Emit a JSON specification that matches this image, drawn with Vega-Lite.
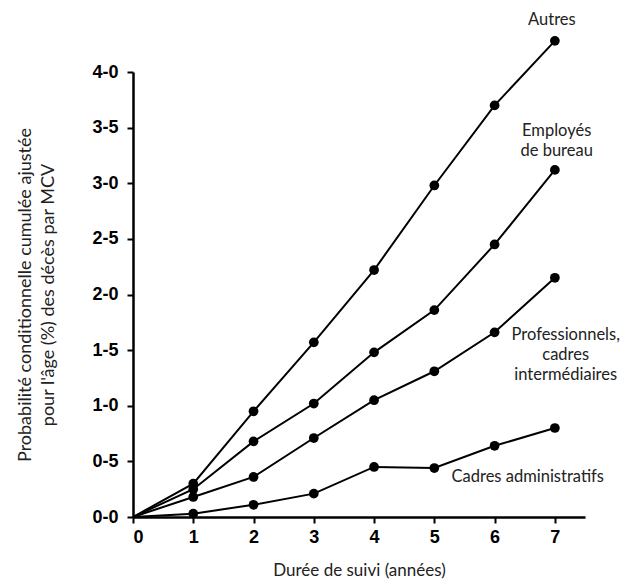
{
  "$schema": "https://vega.github.io/schema/vega-lite/v6.json",
  "autosize": "none",
  "width": 452,
  "height": 445,
  "padding": {"left": 133, "top": 72, "right": 36, "bottom": 64},
  "background": "white",
  "config": {"view": {"stroke": null}},
  "datasets": {
    "series": [
      {"annee": 0, "valeur": 0, "groupe": "Autres"},
      {"annee": 1, "valeur": 0.30, "groupe": "Autres"},
      {"annee": 2, "valeur": 0.95, "groupe": "Autres"},
      {"annee": 3, "valeur": 1.57, "groupe": "Autres"},
      {"annee": 4, "valeur": 2.22, "groupe": "Autres"},
      {"annee": 5, "valeur": 2.98, "groupe": "Autres"},
      {"annee": 6, "valeur": 3.70, "groupe": "Autres"},
      {"annee": 7, "valeur": 4.28, "groupe": "Autres"},
      {"annee": 0, "valeur": 0, "groupe": "Employés de bureau"},
      {"annee": 1, "valeur": 0.25, "groupe": "Employés de bureau"},
      {"annee": 2, "valeur": 0.68, "groupe": "Employés de bureau"},
      {"annee": 3, "valeur": 1.02, "groupe": "Employés de bureau"},
      {"annee": 4, "valeur": 1.48, "groupe": "Employés de bureau"},
      {"annee": 5, "valeur": 1.86, "groupe": "Employés de bureau"},
      {"annee": 6, "valeur": 2.45, "groupe": "Employés de bureau"},
      {"annee": 7, "valeur": 3.12, "groupe": "Employés de bureau"},
      {"annee": 0, "valeur": 0, "groupe": "Professionnels, cadres intermédiaires"},
      {"annee": 1, "valeur": 0.18, "groupe": "Professionnels, cadres intermédiaires"},
      {"annee": 2, "valeur": 0.36, "groupe": "Professionnels, cadres intermédiaires"},
      {"annee": 3, "valeur": 0.71, "groupe": "Professionnels, cadres intermédiaires"},
      {"annee": 4, "valeur": 1.05, "groupe": "Professionnels, cadres intermédiaires"},
      {"annee": 5, "valeur": 1.31, "groupe": "Professionnels, cadres intermédiaires"},
      {"annee": 6, "valeur": 1.66, "groupe": "Professionnels, cadres intermédiaires"},
      {"annee": 7, "valeur": 2.15, "groupe": "Professionnels, cadres intermédiaires"},
      {"annee": 0, "valeur": 0, "groupe": "Cadres administratifs"},
      {"annee": 1, "valeur": 0.03, "groupe": "Cadres administratifs"},
      {"annee": 2, "valeur": 0.11, "groupe": "Cadres administratifs"},
      {"annee": 3, "valeur": 0.21, "groupe": "Cadres administratifs"},
      {"annee": 4, "valeur": 0.45, "groupe": "Cadres administratifs"},
      {"annee": 5, "valeur": 0.44, "groupe": "Cadres administratifs"},
      {"annee": 6, "valeur": 0.64, "groupe": "Cadres administratifs"},
      {"annee": 7, "valeur": 0.80, "groupe": "Cadres administratifs"}
    ],
    "etiquettes": [
      {"texte": ["Autres"], "annee": 6.95, "valeur": 4.47},
      {"texte": ["Employés", "de bureau"], "annee": 7.03, "valeur": 3.47},
      {"texte": ["Professionnels,", "cadres", "intermédiaires"], "annee": 7.18, "valeur": 1.64},
      {"texte": ["Cadres administratifs"], "annee": 6.55, "valeur": 0.36}
    ]
  },
  "layer": [
    {
      "data": {"name": "series"},
      "mark": {"type": "line", "color": "black", "strokeWidth": 2},
      "encoding": {
        "x": {
          "field": "annee", "type": "quantitative",
          "scale": {"domain": [0, 7.5], "nice": false, "zero": true},
          "axis": {
            "values": [0, 1, 2, 3, 4, 5, 6, 7],
            "format": "d",
            "title": "Durée de suivi (années)",
            "titleFont": "Lato", "titleFontWeight": "normal", "titleFontSize": 17, "titleColor": "#222",
            "titlePadding": 16,
            "labelFont": "Liberation Sans", "labelFontWeight": "bold", "labelFontSize": 18, "labelColor": "black",
            "labelPadding": 5,
            "domainColor": "black", "domainWidth": 2.5,
            "tickColor": "black", "tickWidth": 2, "tickSize": 6,
            "grid": false
          }
        },
        "y": {
          "field": "valeur", "type": "quantitative",
          "scale": {"domain": [0, 4], "nice": false},
          "axis": {
            "values": [0, 0.5, 1, 1.5, 2, 2.5, 3, 3.5, 4],
            "labelExpr": "replace(format(datum.value, '.1f'), '.', '-')",
            "title": ["Probabilité conditionnelle cumulée ajustée", "pour l'âge (%) des décès par MCV"],
            "titleFont": "Lato", "titleFontWeight": "normal", "titleFontSize": 18, "titleColor": "#222",
            "titleLineHeight": 23,
            "titlePadding": 34,
            "labelFont": "Liberation Sans", "labelFontWeight": "bold", "labelFontSize": 18, "labelColor": "black",
            "labelPadding": 9,
            "domainColor": "black", "domainWidth": 2.5,
            "tickColor": "black", "tickWidth": 2, "tickSize": 6,
            "grid": false
          }
        },
        "detail": {"field": "groupe"}
      }
    },
    {
      "data": {"name": "series"},
      "transform": [{"filter": "datum.annee > 0"}],
      "mark": {"type": "circle", "color": "black", "opacity": 1, "size": 95},
      "encoding": {
        "x": {"field": "annee", "type": "quantitative"},
        "y": {"field": "valeur", "type": "quantitative"}
      }
    },
    {
      "data": {"name": "etiquettes"},
      "mark": {"type": "text", "font": "Lato", "fontSize": 16.5, "color": "#222", "align": "center", "baseline": "middle", "lineHeight": 20},
      "encoding": {
        "x": {"field": "annee", "type": "quantitative"},
        "y": {"field": "valeur", "type": "quantitative"},
        "text": {"field": "texte"}
      }
    }
  ]
}
